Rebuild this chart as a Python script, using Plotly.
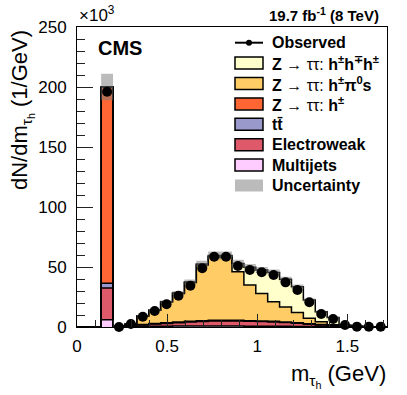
import numpy as np
import plotly.graph_objects as go

# -----------------------
# Data (units of 10^3 / GeV)
# -----------------------
# bin edges in GeV: first bin empty, second is the single-hadron (pi mass) bin
bin_edges = [0.0, 0.134, 0.2, 0.266, 0.332, 0.398, 0.464, 0.530, 0.596, 0.662,
             0.728, 0.794, 0.860, 0.926, 0.992, 1.058, 1.124, 1.190, 1.256,
             1.322, 1.388, 1.454, 1.520, 1.586, 1.652, 1.718]

observed = [None, 196.0, 0.0, 2.5, 8.6, 13.3, 18.9, 26.0, 34.4, 48.9, 58.6, 58.6,
            50.8, 47.5, 45.6, 43.3, 37.2, 30.8, 20.6, 10.8, 6.7, 1.7, 0.3, 0.2, 0.2]

z_3prong = [0, 0, 0, 0.1, 0, 0, 0, 0.3, 0.5, 0.8, 1.0, 1.5, 7.0, 14.7, 19.5,
            24.5, 23.0, 21.6, 15.3, 8.4, 6.1, 0.9, 0.15, 0.05, 0]
z_pi0 = [0, 0, 0.1, 1.2, 7.1, 11.1, 17.5, 23.9, 32.3, 46.5, 52.9, 52.3, 40.4,
         29.7, 22.9, 16.3, 12.5, 8.4, 4.4, 2.4, 0.6, 0.1, 0.05, 0, 0]
z_1prong = [0, 163.5] + [0] * 23
ttbar = [0, 4.0, 0.1, 0.2, 0.3, 0.4, 0.5, 0.5, 0.6, 0.6, 0.6, 0.6, 0.6, 0.6,
         0.6, 0.6, 0.5, 0.5, 0.4, 0.3, 0.2, 0.1, 0.1, 0.05, 0.05]
electroweak = [0, 26.5, 0.2, 0.6, 1.2, 1.8, 2.3, 2.8, 3.3, 3.8, 4.2, 4.3, 4.2,
               4.0, 3.8, 3.5, 3.1, 2.6, 2.0, 1.4, 0.9, 0.5, 0.2, 0.1, 0.1]
multijets = [0, 6.0, 0.3, 0.5, 0.6, 0.7, 0.7, 0.8, 0.8, 0.8, 0.8, 0.8, 0.8, 0.7,
             0.7, 0.6, 0.6, 0.5, 0.4, 0.3, 0.2, 0.1, 0.1, 0.1, 0.05]
uncertainty = [0, 11.0, 0.05, 0.15, 0.5, 0.8, 1.2, 1.6, 2.1, 2.8, 3.4, 3.4, 3.0,
               2.8, 2.6, 2.5, 2.2, 1.9, 1.3, 0.8, 0.5, 0.15, 0.05, 0.03, 0.02]

FONT = "Liberation Sans, Arial, Helvetica, sans-serif"
UNC_COLOR = "rgba(120,120,120,0.5)"

# stack: (name, values, fill colour), drawn bottom to top
stack = [
    ("Multijets", multijets, "#FFCCFF"),
    ("Electroweak", electroweak, "#DE5A6A"),
    ("tt̄", ttbar, "#9999CC"),
    ("<b>Z</b> → ττ: <b>h<sup>±</sup></b>", z_1prong, "#FF6633"),
    ("<b>Z</b> → ττ: <b>h<sup>±</sup>π<sup>0</sup>s</b>", z_pi0, "#FFCC66"),
    ("<b>Z</b> → ττ: <b>h<sup>±</sup>h<sup>∓</sup>h<sup>±</sup></b>", z_3prong, "#FFFFCC"),
]


def steps(vals):
    # histogram step: one y per left edge plus closing value at the last edge
    vals = list(vals)
    return vals + [vals[-1]]


edges = np.array(bin_edges)
centers = 0.5 * (edges[:-1] + edges[1:])
total = np.sum([np.array(v, dtype=float) for _, v, _ in stack], axis=0)
unc = np.array(uncertainty)

fig = go.Figure()

for name, vals, color in stack:
    fig.add_trace(
        go.Scatter(
            x=bin_edges,
            y=steps(vals),
            name=name,
            mode="lines",
            stackgroup="mc",
            line=dict(shape="hv", color="black", width=1.5),
            fillcolor=color,
            showlegend=False,
            hoverinfo="skip",
        )
    )

# uncertainty band (lower edge, then upper filled to it)
fig.add_trace(
    go.Scatter(
        x=bin_edges, y=steps(total - unc), mode="lines",
        line=dict(shape="hv", width=0, color="rgba(0,0,0,0)"),
        showlegend=False, hoverinfo="skip",
    )
)
fig.add_trace(
    go.Scatter(
        x=bin_edges, y=steps(total + unc), mode="lines", fill="tonexty",
        fillcolor=UNC_COLOR, line=dict(shape="hv", width=0, color="rgba(0,0,0,0)"),
        name="Uncertainty", showlegend=False, hoverinfo="skip",
    )
)

fig.add_trace(
    go.Scatter(
        x=centers,
        y=observed,
        mode="markers",
        name="Observed",
        marker=dict(color="black", size=10),
        cliponaxis=False,
        showlegend=False,
    )
)

# -----------------------
# Layout helpers (pixel -> paper)
# -----------------------
L, R, T, B = 77, 387, 27, 327


def px(x):
    return (x - L) / (R - L)


def py(y):
    return (B - y) / (B - T)


annotations = [
    dict(text="×10<sup>3</sup>", x=px(77), y=py(14), xanchor="left", yanchor="middle",
         font=dict(size=17)),
    dict(text="<b>19.7 fb<sup>-1</sup> (8 TeV)</b>", x=px(381), y=py(14),
         xanchor="right", yanchor="middle", font=dict(size=15)),
    dict(text="<b>CMS</b>", x=px(96), y=py(48), xanchor="left", yanchor="middle",
         font=dict(size=20)),
    dict(text="dN/dm<sub>τ<sub>h</sub></sub> (1/GeV)", textangle=-90, x=px(22), y=py(28),
         xanchor="center", yanchor="top", font=dict(size=22)),
    dict(text="m<sub>τ<sub>h</sub></sub> (GeV)", x=px(388), y=py(376),
         xanchor="right", yanchor="middle", font=dict(size=22)),
]

shapes = []
legend_rows = [("<b>Observed</b>", None)] + [
    (f"<b>{n}</b>" if "Z" not in n else n, c) for n, _, c in reversed(stack)
] + [("<b>Uncertainty</b>", UNC_COLOR)]

row_y0, row_dy = 42.7, 20.4
for i, (label, color) in enumerate(legend_rows):
    yc = row_y0 + i * row_dy
    if color is None:
        shapes.append(dict(type="line", xref="paper", yref="paper", x0=px(235), x1=px(263),
                           y0=py(yc), y1=py(yc), line=dict(color="black", width=2)))
        shapes.append(dict(type="circle", xref="paper", yref="paper", x0=px(246), x1=px(252),
                           y0=py(yc + 3), y1=py(yc - 3), fillcolor="black",
                           line=dict(color="black", width=0)))
    elif color == UNC_COLOR:
        shapes.append(dict(type="rect", xref="paper", yref="paper", x0=px(235), x1=px(263),
                           y0=py(yc + 6), y1=py(yc - 6), fillcolor=color, line=dict(width=0)))
    else:
        shapes.append(dict(type="rect", xref="paper", yref="paper", x0=px(235), x1=px(263),
                           y0=py(yc + 6), y1=py(yc - 6), fillcolor=color,
                           line=dict(color="black", width=1.5)))
    annotations.append(dict(text=label, x=px(270), y=py(yc), xanchor="left",
                            yanchor="middle", font=dict(size=16)))

for a in annotations:
    a.update(xref="paper", yref="paper", showarrow=False)

fig.update_layout(
    width=407,
    height=395,
    margin=dict(l=L, r=407 - R, t=T, b=395 - B),
    paper_bgcolor="white",
    plot_bgcolor="white",
    font=dict(family=FONT, color="black"),
    showlegend=False,
    annotations=annotations,
    shapes=shapes,
)
fig.update_xaxes(
    range=[0, 1.72],
    tickvals=[0, 0.5, 1, 1.5],
    ticktext=["0", "0.5", "1", "1.5"],
    ticks="inside", ticklen=13, tickcolor="#222", tickwidth=1,
    minor=dict(ticks="inside", ticklen=7, dtick=0.1, tick0=0, tickcolor="#222"),
    showline=True, linecolor="black", linewidth=1, mirror=True,
    showgrid=False, zeroline=False,
    tickfont=dict(size=17), ticklabelstandoff=4,
)
fig.update_yaxes(
    range=[0, 250],
    tickvals=[0, 50, 100, 150, 200, 250],
    ticks="inside", ticklen=16, tickcolor="#222", tickwidth=1,
    minor=dict(ticks="inside", ticklen=8, dtick=10, tick0=0, tickcolor="#222"),
    showline=True, linecolor="black", linewidth=1, mirror=True,
    showgrid=False, zeroline=False,
    tickfont=dict(size=17), ticklabelstandoff=6,
)

# page body has a default 8px margin; drop it so the figure sits at the window corner
fig.write_html(
    "out.html",
    config={"displayModeBar": False},
    post_script="document.body.style.margin='0';",
)
